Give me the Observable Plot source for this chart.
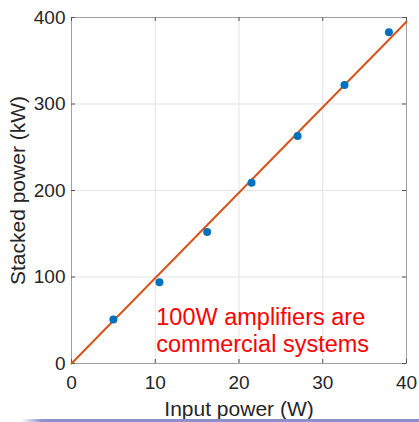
<!DOCTYPE html>
<html>
<head>
<meta charset="utf-8">
<script src="https://cdn.jsdelivr.net/npm/d3@7"></script>
<script src="https://cdn.jsdelivr.net/npm/@observablehq/plot@0.6"></script>
<style>
  html, body { margin: 0; padding: 0; background: #fff; }
  #wrap { position: relative; width: 419px; height: 422px; overflow: hidden; }
  #bar { position: absolute; left: 0; top: 419px; width: 419px; height: 3px;
         background: linear-gradient(to right, rgba(140,140,200,0) 5%, #9090c8 10%, #9090c8 100%); }
</style>
</head>
<body>
<div id="wrap"><div id="bar"></div></div>
<script>
const inputPower = [5.0, 10.5, 16.2, 21.5, 27.0, 32.6, 37.9];
const stackedPower = [51, 94, 152, 209, 263, 322, 383];
const fitX = [0, 40];
const fitY = [0, 395];
const xTicks = [0, 10, 20, 30, 40];
const yTicks = [0, 100, 200, 300, 400];
const annotation = ["100W amplifiers are", "commercial systems"];

const points = inputPower.map((x, i) => ({x, y: stackedPower[i]}));
const fit = fitX.map((x, i) => ({x, y: fitY[i]}));

const W = 419, H = 422, mL = 71, mR = 13, mT = 17, mB = 59;
const innerW = W - mL - mR, innerH = H - mT - mB;
const font = "Liberation Sans, Arial, Helvetica, sans-serif";

const chart = Plot.plot({
  width: W, height: H,
  marginLeft: mL, marginRight: mR, marginTop: mT, marginBottom: mB,
  style: {fontFamily: font, background: "transparent", color: "#262626"},
  x: {domain: [0, 40], ticks: xTicks},
  y: {domain: [0, 400], ticks: yTicks},
  marks: [
    Plot.gridX(xTicks.slice(1, -1), {stroke: "#e3e3e3", strokeOpacity: 1}),
    Plot.gridY(yTicks.slice(1, -1), {stroke: "#e3e3e3", strokeOpacity: 1}),
    Plot.frame({stroke: "#a0a0a0"}),
    Plot.tickX(xTicks, {x: d => d, insetTop: innerH - 4, stroke: "#555"}),
    Plot.tickX(xTicks, {x: d => d, insetBottom: innerH - 4, stroke: "#555"}),
    Plot.tickY(yTicks, {y: d => d, insetRight: innerW - 4, stroke: "#555"}),
    Plot.tickY(yTicks, {y: d => d, insetLeft: innerW - 4, stroke: "#555"}),
    Plot.axisX(xTicks, {tickSize: 0, tickPadding: 12, fontSize: 19, fill: "#262626",
      label: "Input power (W)", labelAnchor: "center", labelArrow: "none", labelOffset: 52}),
    Plot.axisY(yTicks, {tickSize: 0, tickPadding: 6, fontSize: 19, fill: "#262626",
      label: "Stacked power (kW)", labelAnchor: "center", labelArrow: "none", labelOffset: 61}),
    Plot.line(fit, {x: "x", y: "y", stroke: "#D95319", strokeWidth: 2}),
    Plot.dot(points, {x: "x", y: "y", r: 4, fill: "#0072BD", stroke: "none"}),
    Plot.text([annotation.join("\n")], {
      x: 10, y: 68, text: d => d, textAnchor: "start",
      lineAnchor: "top", lineHeight: 1.19, fill: "#ff0000", fontSize: 23.5, dx: 1
    })
  ]
});

chart.querySelectorAll('[aria-label="x-axis label"] text, [aria-label="y-axis label"] text').forEach(t => {
  t.setAttribute("font-size", "21");
});
document.getElementById("wrap").prepend(chart);
</script>
</body>
</html>
